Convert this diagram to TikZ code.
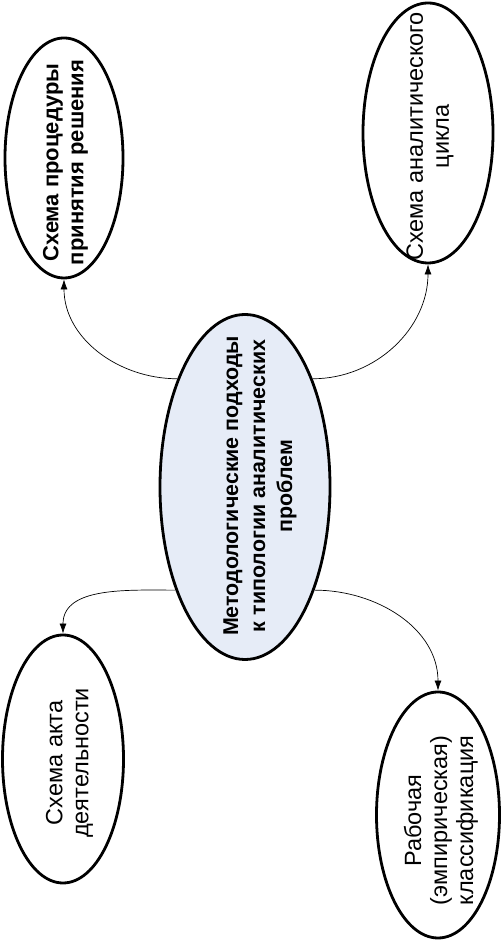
\documentclass[tikz,border=0pt]{standalone}
\usepackage{fontspec}
\setmainfont{Liberation Sans}
\usetikzlibrary{shapes.geometric,arrows.meta}
\definecolor{rootfill}{RGB}{230,236,247}

\begin{document}
\begin{tikzpicture}[x=1pt,y=1pt,
  ell/.style={draw, ellipse, line width=2.8pt, inner sep=0pt},
  txt/.style={rotate=90, align=center, inner sep=0pt, font=\fontsize{23.5}{26}\selectfont},
  bxt/.style={txt, font=\fontsize{22}{25}\selectfont\bfseries},
  link/.style={-{Latex[length=10pt,width=7pt]}, line width=0.7pt}]
%\draw[help lines] (0,0) grid (501,942);
\useasboundingbox (0,0) rectangle (501,942);
\node (c) [ell, fill=rootfill, minimum width=170pt, minimum height=345pt] at (245,455) {};
\node (tl) [ell, minimum width=118pt, minimum height=240pt] at (64,784) {};
\node (tr) [ell, minimum width=130pt, minimum height=260pt] at (428,809) {};
\node (bl) [ell, minimum width=121pt, minimum height=248pt] at (63,183) {};
\node (br) [ell, minimum width=123pt, minimum height=246pt] at (438,127) {};

\node (c_t) [bxt, font=\fontsize{21.4}{27}\selectfont\bfseries] at (260,456) {Методологические подходы\\к типологии аналитических\\проблем};
\node (tl_t) [bxt] at (65.5,779.5) {Схема процедуры\\принятия решения};
\node (tr_t) [txt] at (430,805.5) {Схема аналитического\\цикла};
\node (bl_t) [txt] at (69.5,179) {Схема акта\\деятельности};
\node (br_t) [txt] at (441,121.5) {Рабочая\\(эмпирическая)\\классификация};

\path [link]
(c.122) edge [out=180, in=270] (tl.south)
(c.58) edge [out=0, in=270] (tr.south)
(c.236) edge [out=180, in=90] (bl.north)
(c.304) edge [out=0, in=90] (br.north);
\end{tikzpicture}
\end{document}
